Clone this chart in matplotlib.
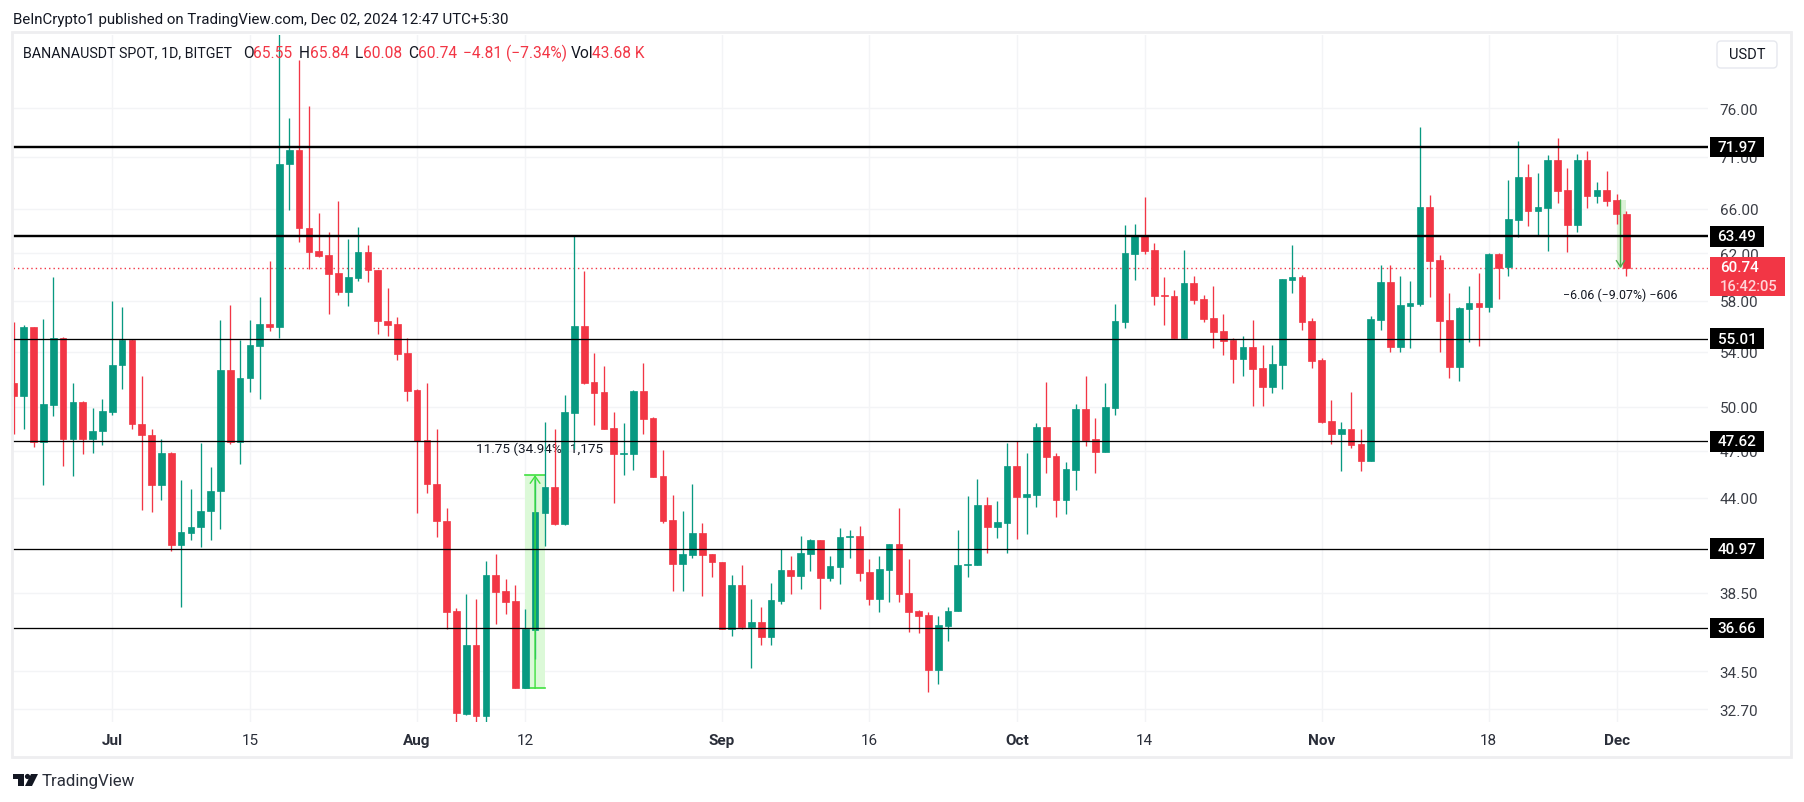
import numpy as np
import pandas as pd
import matplotlib
matplotlib.use("Agg")
import matplotlib.pyplot as plt
import matplotlib.dates as mdates
from matplotlib.patches import Rectangle, FancyBboxPatch, Polygon, Circle
from matplotlib.transforms import IdentityTransform

plt.rcParams['font.family'] = ['Roboto', 'DejaVu Sans']

# Daily candles, 2024-06-21 ... 2024-12-02 (BANANAUSDT)
opens = [
 51.71,50.77,55.94,47.61,50.14,55.05,47.81,50.30,47.81,48.29,
 49.66,52.98,54.92,48.82,48.07,44.77,46.85,41.20,41.89,42.21,43.16,44.39,52.66,47.61,52.02,54.47,56.18,55.89,70.25,71.68,64.29,62.21,61.87,60.35,58.74,59.93,62.13,60.60,56.42,56.18,53.92,
 51.21,47.73,44.88,42.61,37.54,32.50,35.79,32.37,39.49,38.60,38.06,33.67,36.57,43.09,44.69,42.43,49.57,56.02,51.78,51.05,48.55,46.79,46.79,51.12,49.23,45.39,42.67,40.07,40.62,41.89,40.66,
 40.22,36.61,38.94,36.70,36.97,36.20,38.06,39.77,39.44,40.66,41.48,39.33,39.94,41.67,41.71,39.66,38.16,39.77,41.24,38.49,37.54,37.33,34.57,36.77,37.54,40.01,40.05,43.56,42.25,42.49,
 46.02,44.05,44.18,48.61,46.66,43.86,45.77,49.85,47.79,46.92,49.91,56.34,61.96,63.56,62.30,58.49,58.40,55.08,59.50,58.15,56.65,55.57,54.92,53.47,54.37,52.81,51.41,53.03,59.76,60.01,56.42,
 53.40,49.03,48.14,48.48,47.45,46.34,56.50,59.59,54.37,57.60,57.76,66.19,61.45,56.50,52.88,57.36,57.83,57.52,61.96,60.86,65.01,69.06,65.83,66.10,70.71,67.79,64.56,70.71,67.21,67.79,
 66.83,65.55]
highs = [
 56.31,56.10,55.94,56.57,60.01,55.13,51.71,50.39,49.93,50.53,
 58.00,57.52,55.00,52.22,48.48,47.79,46.92,45.13,44.56,47.50,45.94,56.50,57.68,54.92,56.50,58.32,61.37,84.38,75.02,81.28,76.27,65.65,63.92,66.74,63.29,64.38,62.74,60.60,59.08,56.73,55.08,
 51.27,51.71,48.48,43.37,37.70,38.44,38.16,40.27,40.66,39.27,38.94,37.64,45.19,48.96,48.48,50.82,63.59,60.52,53.92,52.96,49.64,48.89,51.19,53.18,49.30,47.05,44.18,43.20,44.88,42.49,40.66,
 40.22,39.49,40.05,38.16,37.75,39.05,40.94,40.55,41.71,41.54,41.48,40.55,42.19,42.07,42.31,40.38,40.55,41.24,43.38,40.38,37.59,37.49,37.28,37.75,42.07,44.11,45.19,44.05,43.80,47.52,
 47.66,46.85,48.89,51.78,46.85,46.28,50.19,52.22,49.23,51.71,57.76,64.56,64.65,67.11,62.92,60.01,58.91,62.30,60.10,58.49,59.25,56.97,55.08,55.23,56.50,54.52,54.52,59.84,62.74,60.18,56.65,
 53.55,50.46,48.96,51.05,48.48,56.81,61.03,61.03,60.10,59.67,74.08,67.31,61.87,58.66,57.52,59.25,60.35,62.04,62.04,68.77,72.62,70.32,69.45,71.20,72.93,69.93,71.29,71.59,68.57,69.64,
 67.41,65.84]
lows = [
 48.14,48.43,47.23,44.77,49.32,45.98,45.34,46.81,46.87,47.40,
 49.39,51.29,48.43,43.28,43.10,43.88,40.85,37.76,41.49,41.08,41.49,42.09,47.45,46.11,51.07,50.55,55.57,55.08,65.86,62.99,60.63,61.73,56.97,58.51,57.62,59.61,59.53,55.34,55.18,53.42,50.41,
 43.04,44.32,41.67,36.58,32.09,32.45,32.09,32.09,36.87,37.39,33.67,33.67,35.10,41.14,42.33,42.33,47.11,51.63,48.75,48.48,43.68,45.45,45.77,48.14,45.32,42.49,38.60,38.60,40.44,38.33,39.38,
 36.61,36.25,36.61,34.66,35.79,35.79,37.90,38.44,38.72,39.72,37.64,39.16,38.99,40.44,39.16,37.85,37.49,38.00,38.00,36.46,36.41,33.51,33.90,35.99,37.54,39.38,40.05,40.72,41.60,40.72,
 41.54,41.83,43.44,45.58,42.85,43.03,44.49,47.32,45.58,46.92,49.44,55.86,59.76,61.96,57.68,56.10,55.08,55.08,57.76,56.34,54.29,53.77,51.71,52.22,50.05,50.05,50.97,51.27,58.66,55.71,52.81,
 48.89,47.45,45.71,47.18,45.71,46.34,55.71,53.99,53.99,54.29,57.60,58.32,53.99,52.08,51.85,54.76,54.45,57.13,58.15,60.10,63.47,64.47,63.65,62.21,66.56,62.13,63.92,66.10,66.56,66.28,
 64.65,60.08]
closes = [
 50.77,55.94,47.61,50.19,55.05,47.81,50.30,47.81,48.34,49.69,
 53.03,54.92,48.77,48.02,44.77,46.85,41.20,41.95,42.23,43.19,44.41,52.66,47.57,52.08,54.52,56.18,55.89,70.32,71.68,64.22,62.15,61.81,60.27,58.77,60.01,62.13,60.54,56.36,56.10,53.84,51.14,
 47.64,44.83,42.57,37.50,32.51,35.79,32.37,39.49,38.57,38.02,33.67,36.61,43.15,44.69,42.43,49.64,56.02,51.71,50.97,48.48,46.79,46.84,51.12,49.16,45.32,42.61,40.07,40.66,41.89,40.62,40.18,
 36.61,38.94,36.70,36.97,36.20,38.11,39.77,39.44,40.72,41.48,39.33,39.99,41.65,41.71,39.60,38.16,39.83,41.24,38.44,37.49,37.28,34.57,36.82,37.54,40.05,40.11,43.56,42.25,42.55,46.02,
 44.05,44.24,48.61,46.60,43.86,45.83,49.85,47.73,46.92,49.98,56.42,62.04,63.56,62.21,58.40,58.40,55.08,59.50,58.07,56.57,55.49,54.84,53.47,54.37,52.74,51.41,53.10,59.84,60.01,56.34,53.32,
 48.96,48.14,48.48,47.38,46.34,56.57,59.59,54.37,57.68,57.83,66.19,61.37,56.42,52.88,57.44,57.83,57.52,61.96,60.77,65.10,69.06,65.83,66.19,70.71,67.70,64.56,70.71,67.21,67.79,66.74,
 65.56,60.74]

levels = [71.97, 63.49, 55.01, 47.62, 40.97, 36.66]
level_widths = [2.4, 2.4, 1.3, 1.3, 1.3, 1.3]
last_price = 60.74
price_ticks = [76, 71, 66, 62, 58, 54, 50, 47, 44, 38.5, 34.5, 32.7]
date_ticks = ['2024-07-01','2024-07-15','2024-08-01','2024-08-12','2024-09-01','2024-09-16',
              '2024-10-01','2024-10-14','2024-11-01','2024-11-18','2024-12-01']
date_labels = ['Jul','15','Aug','12','Sep','16','Oct','14','Nov','18','Dec']
bold_labels = {'Jul','Aug','Sep','Oct','Nov','Dec'}

W, H = 1804, 803
UP, DOWN = '#089981', '#F23645'
DARK = '#131722'

dates = pd.date_range('2024-06-21', periods=len(opens), freq='D')
x = mdates.date2num(dates)
o, h, l, c = map(np.array, (opens, highs, lows, closes))
assert len(o) == len(h) == len(l) == len(c) == 165

fig = plt.figure(figsize=(W/100, H/100), dpi=100, facecolor='white')
ax = fig.add_axes([13/W, (H-723)/H, (1708-13)/W, (723-36)/H])
ax.set_yscale('log')
jul1 = mdates.date2num(pd.Timestamp('2024-07-01'))
ax.set_xlim(jul1-10.10, jul1+162.3)
ax.set_ylim(32.12, 84.24)

for s in ax.spines.values():
    s.set_visible(False)
ax.yaxis.tick_right()
ax.minorticks_off()
ax.set_yticks(price_ticks)
ax.set_yticklabels([f'{p:.2f}' for p in price_ticks])
ax.yaxis.set_minor_locator(matplotlib.ticker.NullLocator())
ax.tick_params(axis='y', length=0, pad=8.5, labelsize=11, labelcolor='#3a3d45')
ax.set_xticks(mdates.date2num(pd.to_datetime(date_ticks)))
ax.set_xticklabels(date_labels)
ax.tick_params(axis='x', length=0, pad=8, labelsize=11, labelcolor='#2a2e39')
for t in ax.get_xticklabels():
    if t.get_text() in bold_labels:
        t.set_fontweight('bold')
ax.grid(True, color='#f3f4f6', lw=1.0, zorder=0)
ax.set_axisbelow(True)

# rulers
j = lambda s: mdates.date2num(pd.Timestamp(s))
ax.fill_between([j('2024-08-12'), j('2024-08-14')], 33.67, 45.42, color='#dcf9d8', lw=0, zorder=1)
ax.plot([j('2024-08-12'), j('2024-08-14')], [45.42, 45.42], color='#3fe03f', lw=1.2, zorder=1.5)
ax.plot([j('2024-08-12'), j('2024-08-14')], [33.67, 33.67], color='#3fe03f', lw=1.2, zorder=1.5)
ax.fill_between([j('2024-12-01'), j('2024-12-02')], 60.74, 66.83, color='#dcf2d8', lw=0, zorder=1)
ax.text(j('2024-08-07'), 47.15, '11.75 (34.94%) 1,175', fontsize=9.7, color=DARK, zorder=1.2,
        ha='left', va='center')
ax.text(j('2024-12-01')+0.4, 58.56, '−6.06 (−9.07%) −606', fontsize=8.9, color=DARK, zorder=1.2,
        ha='center', va='center')

# last price line
ax.axhline(last_price, color=DOWN, lw=1, ls=(0, (1, 2.2)), zorder=1.6)

# candles
colors = np.where(c >= o, UP, DOWN)
ax.vlines(x, l, h, colors=colors, lw=0.95, zorder=2)
ax.bar(x, np.abs(c-o), bottom=np.minimum(o, c), width=0.68, color=colors, edgecolor=colors,
       lw=0.5, zorder=3)

# ruler arrows above candles
ax.annotate('', xy=(j('2024-08-13'), 45.42), xytext=(j('2024-08-13'), 33.67),
            arrowprops=dict(arrowstyle='->,head_width=0.35,head_length=0.5', color='#3fe03f', lw=1, shrinkA=0, shrinkB=0),
            zorder=3.5)
ax.annotate('', xy=(j('2024-12-01')+0.4, 60.74), xytext=(j('2024-12-01')+0.4, 66.83),
            arrowprops=dict(arrowstyle='->,head_width=0.3,head_length=0.45', color='#4caf50', lw=1, shrinkA=0, shrinkB=0),
            zorder=3.5)

# horizontal levels
for lv, lw in zip(levels, level_widths):
    ax.axhline(lv, color='black', lw=lw*0.72, zorder=4)

fig.canvas.draw()

def T(xp, yp, s, **kw):
    kw.setdefault('va', 'center')
    kw.setdefault('ha', 'left')
    kw.setdefault('zorder', 10)
    fig.text(xp/W, 1 - yp/H, s, **kw)

# panel border
fig.add_artist(Rectangle((12, H-758), 1779, 725, transform=IdentityTransform(), fill=False,
                         ec='#eeeef0', lw=2, zorder=0.5))

# price labels
for lv in levels:
    yd = ax.transData.transform((x[0], lv))[1]
    fig.add_artist(Rectangle((1710, yd-10.3), 54, 20.6, transform=IdentityTransform(), fc='black', ec='none', zorder=5))
    T(1737, H-yd, f'{lv:.2f}', color='white', fontsize=11, ha='center', fontweight='medium')
fig.add_artist(Rectangle((1710, H-297), 75, 39, transform=IdentityTransform(), fc=DOWN, ec='none', zorder=5))
T(1720, 268, '60.74', color='white', fontsize=11, fontweight='medium')
T(1720, 287, '16:42:05', color='#ffd5d9', fontsize=10.6, fontweight='medium')

# USDT button
fig.add_artist(FancyBboxPatch((1717, H-69), 60, 27, boxstyle='round,pad=0,rounding_size=4',
                              transform=IdentityTransform(), fc='white', ec='#e6e8ee', lw=1, zorder=5))
T(1747, 55, 'USDT', color=DARK, fontsize=10.5, ha='center')

# header and legend
T(13, 20, 'BeInCrypto1 published on TradingView.com, Dec 02, 2024 12:47 UTC+5:30', color=DARK, fontsize=10.8)
T(23.3, 53, 'BANANAUSDT SPOT, 1D, BITGET', color=DARK, fontsize=10.25)
for xp, s, col in [(243,'O',DARK),(253,'65.55',DOWN),(299,'H',DARK),(310,'65.84',DOWN),(355,'L',DARK),
                   (363,'60.08',DOWN),(408.5,'C',DARK),(418,'60.74',DOWN),(463.4,'−4.81 (−7.34%)',DOWN),
                   (571,'Vol',DARK),(591.5,'43.68 K',DOWN)]:
    T(xp, 53, s, color=col, fontsize=11.2)

# TradingView logo and wordmark
fig.add_artist(Polygon([(13,H-775),(24,H-775),(24,H-787),(18,H-787),(18,H-780),(13,H-780)],
                       transform=IdentityTransform(), fc='#131722', ec='none', zorder=5))
fig.add_artist(Circle((27.5,H-777.5), 2.6, transform=IdentityTransform(), fc='#131722', ec='none', zorder=5))
fig.add_artist(Polygon([(31,H-775),(38,H-775),(32,H-787),(25,H-787)],
                       transform=IdentityTransform(), fc='#131722', ec='none', zorder=5))
T(42, 781.5, 'TradingView', color='#2a2e39', fontsize=12.2)

fig.savefig('out.png', dpi=100, facecolor='white')
